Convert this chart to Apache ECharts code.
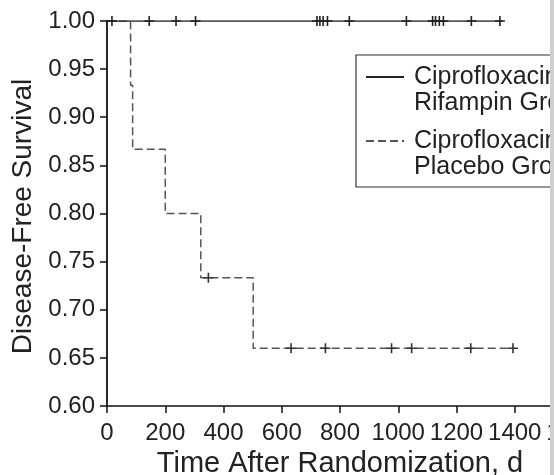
<!DOCTYPE html>
<html>
<head>
<meta charset="utf-8">
<title>Disease-Free Survival</title>
<script src="https://cdn.jsdelivr.net/npm/echarts@6.0.0/dist/echarts.min.js"></script>
<style>
html, body {
  margin: 0;
  padding: 0;
  background: #fff;
}
#chart {
  width: 554px;
  height: 475px;
}
</style>
</head>
<body>
<div id="chart"></div>
<script>
// Kaplan-Meier steps (days, survival)
var rifName = 'Ciprofloxacin-Rifampin Group';
var placeboName = 'Ciprofloxacin-Placebo Group';

var rifTimes = [0, 1359];
var rifSurv = [1.0, 1.0];
var rifCensorTimes = [17, 145, 237, 304, 721, 731, 742, 757, 832, 1028, 1118, 1128, 1141, 1155, 1251, 1349];
var rifCensorSurv = [1.0, 1.0, 1.0, 1.0, 1.0, 1.0, 1.0, 1.0, 1.0, 1.0, 1.0, 1.0, 1.0, 1.0, 1.0, 1.0];

var placeboTimes = [0, 81, 88, 200, 322, 502, 1394];
var placeboSurv = [1.0, 0.9333, 0.8667, 0.8, 0.7333, 0.66, 0.66];
var placeboCensorTimes = [348, 632, 750, 977, 1046, 1249, 1394];
var placeboCensorSurv = [0.7333, 0.66, 0.66, 0.66, 0.66, 0.66, 0.66];

var xTicks = [0, 200, 400, 600, 800, 1000, 1200, 1400, 1600];
var yTicks = [0.60, 0.65, 0.70, 0.75, 0.80, 0.85, 0.90, 0.95, 1.00];

function pairs(xs, ys) {
  var out = [];
  for (var i = 0; i < xs.length; i++) {
    out.push([xs[i], ys[i]]);
  }
  return out;
}

var fontFamily = '"Liberation Sans", Arial, Helvetica, sans-serif';
var plusMark = 'path://M4.2,0H5.8V10H4.2Z M0,4.2H10V5.8H0Z';

var myChart = echarts.init(document.getElementById('chart'));
var option = {
  animation: false,
  backgroundColor: '#fff',
  textStyle: { fontFamily: fontFamily },
  grid: {
    left: 107,
    top: 21,
    bottom: 69,
    width: 466,
    outerBoundsMode: 'none',
    containLabel: false
  },
  legend: {
    orient: 'vertical',
    left: 356,
    top: 55,
    padding: [-17, 40, 7, 9],
    itemGap: -14,
    itemWidth: 38,
    itemHeight: 14,
    borderColor: '#333',
    borderWidth: 1.2,
    backgroundColor: '#fff',
    data: [rifName, placeboName],
    itemStyle: { opacity: 0 },
    // blank first line so the icon sits level with the first text line
    formatter: function (name) {
      return ' \n' + name.replace('-', '-\n');
    },
    textStyle: {
      fontFamily: fontFamily,
      fontSize: 25,
      lineHeight: 26,
      color: '#222',
      padding: [0, 0, 0, 5]
    }
  },
  xAxis: {
    type: 'value',
    min: 0,
    max: 1600,
    interval: 200,
    name: 'Time After Randomization, d',
    nameLocation: 'middle',
    nameGap: 32,
    nameTextStyle: {
      fontSize: 29,
      color: '#222'
    },
    splitLine: { show: false },
    axisLine: { lineStyle: { color: '#111', width: 1.5 } },
    axisTick: { length: 7, lineStyle: { color: '#111', width: 1.5 } },
    axisLabel: {
      fontSize: 24,
      color: '#222',
      margin: 15,
      showMaxLabel: true,
      formatter: function (v) {
        return String(v);
      }
    }
  },
  yAxis: {
    type: 'value',
    min: 0.6,
    max: 1.0,
    interval: 0.05,
    name: 'Disease-Free Survival',
    nameLocation: 'middle',
    nameGap: 68,
    nameTextStyle: {
      fontSize: 28,
      color: '#222',
      padding: [0, 6, 0, 0]
    },
    splitLine: { show: false },
    axisLine: { show: true, lineStyle: { color: '#111', width: 1.8 } },
    axisTick: { show: true, length: 7, lineStyle: { color: '#111', width: 1.5 } },
    axisLabel: {
      fontSize: 24,
      color: '#222',
      margin: 12,
      formatter: function (v) {
        return v.toFixed(2);
      }
    }
  },
  series: [
    {
      name: rifName,
      type: 'line',
      step: 'end',
      symbol: 'none',
      data: pairs(rifTimes, rifSurv),
      lineStyle: { color: '#222', width: 1.4, type: 'solid' },
      itemStyle: { color: '#222' },
      z: 3
    },
    {
      name: placeboName,
      type: 'line',
      step: 'end',
      symbol: 'none',
      data: pairs(placeboTimes, placeboSurv),
      lineStyle: { color: '#555', width: 1.5, type: [8, 4] },
      itemStyle: { color: '#555' },
      z: 2
    },
    {
      name: 'rifCensor',
      type: 'scatter',
      symbol: plusMark,
      symbolSize: [10, 10],
      data: pairs(rifCensorTimes, rifCensorSurv),
      itemStyle: { color: '#222', opacity: 1 },
      z: 4
    },
    {
      name: 'placeboCensor',
      type: 'scatter',
      symbol: plusMark,
      symbolSize: [10, 10],
      data: pairs(placeboCensorTimes, placeboCensorSurv),
      itemStyle: { color: '#333', opacity: 1 },
      z: 4
    }
  ],
  graphic: [
    {
      // grey page edge at the right
      type: 'rect',
      right: 0,
      top: 0,
      shape: { width: 4, height: 475 },
      style: { fill: '#cfcfcf' },
      z: 100
    }
  ]
};
myChart.setOption(option, true);
</script>
</body>
</html>
